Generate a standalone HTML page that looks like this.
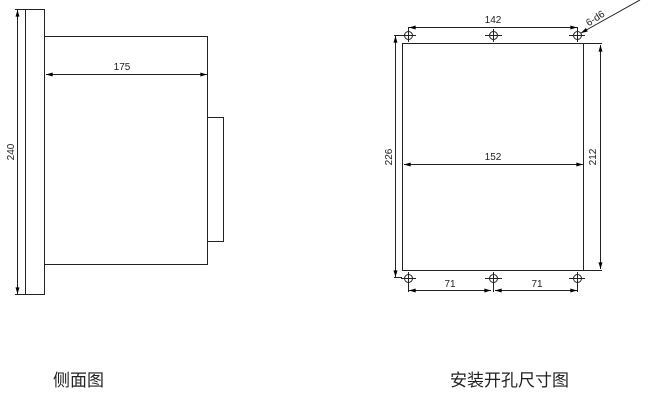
<!DOCTYPE html>
<html><head><meta charset="utf-8"><style>
html,body{margin:0;padding:0;background:#fff;width:666px;height:401px;overflow:hidden}
</style></head><body>
<svg width="666" height="401" viewBox="0 0 666 401" xmlns="http://www.w3.org/2000/svg" font-family="Liberation Sans, sans-serif">
<defs>
<marker id="a" viewBox="0 0 10 6" refX="10" refY="3" markerWidth="8" markerHeight="4" orient="auto-start-reverse"><path d="M0,0 L10,3 L0,6 z" fill="#000"/></marker>
</defs>
<g fill="none" stroke="#222" stroke-width="1">
<!-- side view -->
<rect x="25.5" y="9.5" width="19" height="285"/>
<rect x="44.5" y="36.5" width="163" height="228"/>
<rect x="207.5" y="117.5" width="16" height="124"/>
<line x1="17.5" y1="10" x2="17.5" y2="294" marker-start="url(#a)" marker-end="url(#a)"/>
<line x1="15" y1="9.5" x2="25" y2="9.5"/><line x1="15" y1="294.5" x2="25" y2="294.5"/>
<line x1="46" y1="74.5" x2="207" y2="74.5" marker-start="url(#a)" marker-end="url(#a)"/>
<!-- cutout -->
<rect x="402.5" y="43.5" width="181" height="227"/>
<line x1="584" y1="43.5" x2="602" y2="43.5"/><line x1="584" y1="270.5" x2="602" y2="270.5"/>
<line x1="600.5" y1="45" x2="600.5" y2="269" marker-start="url(#a)" marker-end="url(#a)"/>
<line x1="395.5" y1="36" x2="395.5" y2="277" marker-start="url(#a)" marker-end="url(#a)"/>
<line x1="394" y1="35.5" x2="402" y2="35.5"/><line x1="394" y1="277.5" x2="402" y2="277.5"/>
<line x1="404" y1="164.5" x2="583" y2="164.5" marker-start="url(#a)" marker-end="url(#a)"/>
<line x1="409" y1="27.5" x2="577" y2="27.5" marker-start="url(#a)" marker-end="url(#a)"/>
<line x1="409" y1="290.5" x2="491" y2="290.5" marker-start="url(#a)" marker-end="url(#a)"/>
<line x1="495" y1="290.5" x2="577" y2="290.5" marker-start="url(#a)" marker-end="url(#a)"/>
<g>
<circle cx="408.5" cy="35.5" r="4"/><line x1="401" y1="35.5" x2="416" y2="35.5"/><line x1="408.5" y1="27" x2="408.5" y2="42"/>
<circle cx="493.5" cy="35.5" r="4"/><line x1="485" y1="35.5" x2="502" y2="35.5"/><line x1="493.5" y1="29" x2="493.5" y2="42"/>
<circle cx="577.5" cy="35.5" r="4"/><line x1="569" y1="35.5" x2="585" y2="35.5"/><line x1="577.5" y1="27" x2="577.5" y2="42"/>
<circle cx="408.5" cy="278.5" r="4"/><line x1="401" y1="278.5" x2="416" y2="278.5"/><line x1="408.5" y1="272" x2="408.5" y2="292"/>
<circle cx="493.5" cy="278.5" r="4"/><line x1="485" y1="278.5" x2="502" y2="278.5"/><line x1="493.5" y1="272" x2="493.5" y2="292"/>
<circle cx="577.5" cy="278.5" r="4"/><line x1="569" y1="278.5" x2="585" y2="278.5"/><line x1="577.5" y1="272" x2="577.5" y2="292"/>
</g>
<line x1="640" y1="0" x2="581" y2="33" marker-end="url(#a)"/>
</g>
<g font-size="10" fill="#222">
<text x="122" y="70" text-anchor="middle">175</text>
<text transform="translate(14,152) rotate(-90)" text-anchor="middle">240</text>
<text x="493" y="23" text-anchor="middle">142</text>
<text x="493" y="160" text-anchor="middle">152</text>
<text x="450" y="287" text-anchor="middle">71</text>
<text x="537" y="287" text-anchor="middle">71</text>
<text transform="translate(392,157) rotate(-90)" text-anchor="middle">226</text>
<text transform="translate(596,157) rotate(-90)" text-anchor="middle">212</text>
<text transform="translate(597,21) rotate(-33)" text-anchor="middle">6-d6</text>
</g>
<g font-size="17" fill="#222" font-family="Liberation Sans, Noto Sans CJK SC, sans-serif">
<text x="53" y="386">侧面图</text>
<text x="450" y="386">安装开孔尺寸图</text>
</g>
</svg>
</body></html>
